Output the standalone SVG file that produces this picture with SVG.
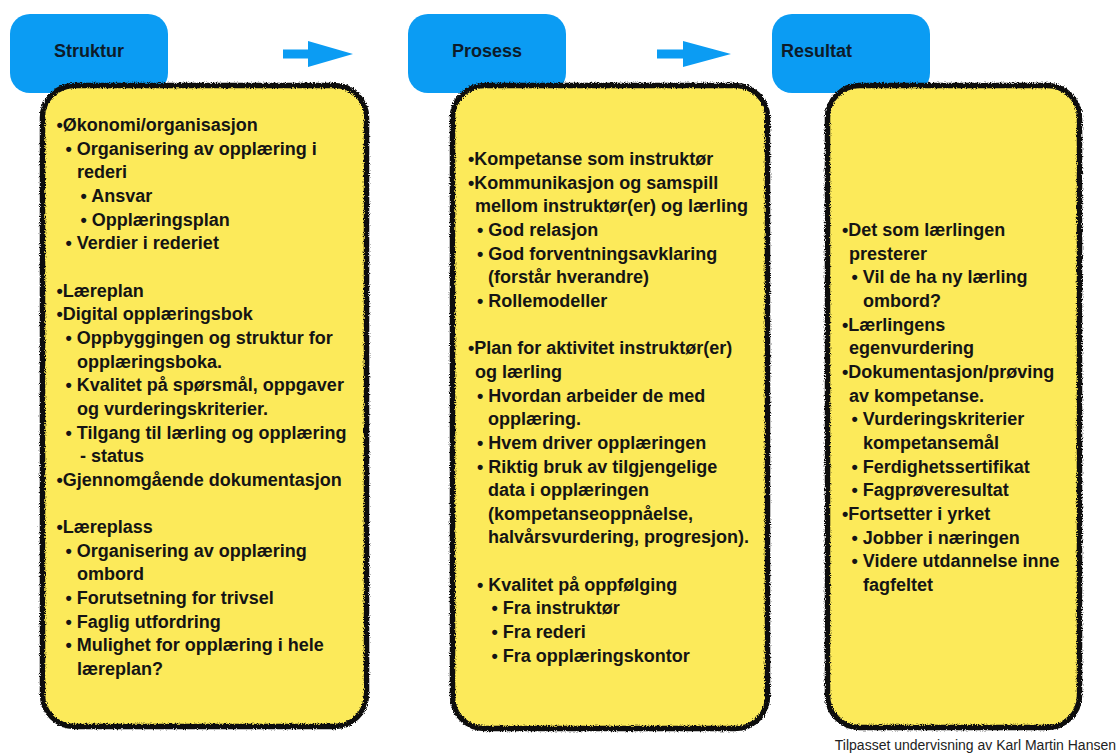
<svg xmlns="http://www.w3.org/2000/svg" width="1119" height="756" viewBox="0 0 1119 756">
  <defs>
    <style>
      .hdr { fill: #0b9cf3; }
      .hdr-t { font-family: "Liberation Sans", Arial, sans-serif; font-weight: bold; font-size: 18px; fill: #0d1b2a; }
      .card { fill: #fcea5a; }
      .edge { fill: none; stroke: #111; stroke-width: 5.5; filter: url(#rough); }
      .t { font-family: "Liberation Sans", Arial, sans-serif; font-weight: bold; font-size: 18px; fill: #141414; }
      .credit { font-family: "Liberation Sans", Arial, sans-serif; font-size: 14px; fill: #222; }
      .arrow { fill: #0b9cf3; }
    </style>
    <!-- hand-drawn, frayed outline for the yellow cards -->
    <filter id="rough" x="-5%" y="-5%" width="110%" height="110%">
      <feTurbulence type="fractalNoise" baseFrequency="0.9" numOctaves="2" seed="3" result="noise"/>
      <feDisplacementMap in="SourceGraphic" in2="noise" scale="4" xChannelSelector="R" yChannelSelector="G"/>
    </filter>
  </defs>

  <rect width="1119" height="756" fill="#ffffff"/>

  <!-- Struktur -->
  <g id="struktur">
    <rect class="hdr" x="10" y="14" width="158" height="79" rx="20"/>
    <text class="hdr-t" x="54" y="57">Struktur</text>
    <rect class="card" x="42.5" y="85.5" width="324" height="641" rx="32"/>
    <rect class="edge" x="42.5" y="85.5" width="324" height="641" rx="32"/>
    <text class="t" x="56.5" y="131">•Økonomi/organisasjon</text>
    <text class="t" x="65.5" y="154.6">• Organisering av opplæring i</text>
    <text class="t" x="77" y="178.3">rederi</text>
    <text class="t" x="80.5" y="202">• Ansvar</text>
    <text class="t" x="80.5" y="225.6">• Opplæringsplan</text>
    <text class="t" x="65.5" y="249.2">• Verdier i rederiet</text>
    <text class="t" x="56.5" y="296.5">•Læreplan</text>
    <text class="t" x="56.5" y="320.2">•Digital opplæringsbok</text>
    <text class="t" x="65.5" y="343.8">• Oppbyggingen og struktur for</text>
    <text class="t" x="77" y="367.5">opplæringsboka.</text>
    <text class="t" x="65.5" y="391.2">• Kvalitet på spørsmål, oppgaver</text>
    <text class="t" x="77" y="414.8">og vurderingskriterier.</text>
    <text class="t" x="65.5" y="438.5">• Tilgang til lærling og opplæring</text>
    <text class="t" x="80" y="462.1">- status</text>
    <text class="t" x="56.5" y="485.8">•Gjennomgående dokumentasjon</text>
    <text class="t" x="56.5" y="533">•Læreplass</text>
    <text class="t" x="65.5" y="556.7">• Organisering av opplæring</text>
    <text class="t" x="77" y="580.4">ombord</text>
    <text class="t" x="65.5" y="604">• Forutsetning for trivsel</text>
    <text class="t" x="65.5" y="627.7">• Faglig utfordring</text>
    <text class="t" x="65.5" y="651.3">• Mulighet for opplæring i hele</text>
    <text class="t" x="77" y="675">læreplan?</text>
  </g>

  <!-- Prosess -->
  <g id="prosess">
    <rect class="hdr" x="408" y="14" width="158" height="79" rx="20"/>
    <text class="hdr-t" x="452" y="57">Prosess</text>
    <rect class="card" x="452.5" y="85.5" width="315" height="643" rx="32"/>
    <rect class="edge" x="452.5" y="85.5" width="315" height="643" rx="32"/>
    <text class="t" x="468" y="165">•Kompetanse som instruktør</text>
    <text class="t" x="468" y="188.7">•Kommunikasjon og samspill</text>
    <text class="t" x="475" y="212.3">mellom instruktør(er) og lærling</text>
    <text class="t" x="477" y="236">• God relasjon</text>
    <text class="t" x="477" y="259.6">• God forventningsavklaring</text>
    <text class="t" x="488" y="283.3">(forstår hverandre)</text>
    <text class="t" x="477" y="306.9">• Rollemodeller</text>
    <text class="t" x="468" y="354.2">•Plan for aktivitet instruktør(er)</text>
    <text class="t" x="475" y="377.9">og lærling</text>
    <text class="t" x="477" y="401.5">• Hvordan arbeider de med</text>
    <text class="t" x="488" y="425.2">opplæring.</text>
    <text class="t" x="477" y="448.8">• Hvem driver opplæringen</text>
    <text class="t" x="477" y="472.5">• Riktig bruk av tilgjengelige</text>
    <text class="t" x="488" y="496.1">data i opplæringen</text>
    <text class="t" x="488" y="519.8">(kompetanseoppnåelse,</text>
    <text class="t" x="488" y="543.4">halvårsvurdering, progresjon).</text>
    <text class="t" x="477" y="590.7">• Kvalitet på oppfølging</text>
    <text class="t" x="491.5" y="614.4">• Fra instruktør</text>
    <text class="t" x="491.5" y="638">• Fra rederi</text>
    <text class="t" x="491.5" y="661.7">• Fra opplæringskontor</text>
  </g>

  <!-- Resultat -->
  <g id="resultat">
    <rect class="hdr" x="772" y="14" width="158" height="79" rx="20"/>
    <text class="hdr-t" x="781" y="57">Resultat</text>
    <rect class="card" x="827.5" y="85.5" width="252" height="642" rx="32"/>
    <rect class="edge" x="827.5" y="85.5" width="252" height="642" rx="32"/>
    <text class="t" x="842" y="236">•Det som lærlingen</text>
    <text class="t" x="849" y="259.7">presterer</text>
    <text class="t" x="851.5" y="283.3">• Vil de ha ny lærling</text>
    <text class="t" x="863" y="307">ombord?</text>
    <text class="t" x="842" y="330.6">•Lærlingens</text>
    <text class="t" x="849" y="354.3">egenvurdering</text>
    <text class="t" x="842" y="377.9">•Dokumentasjon/prøving</text>
    <text class="t" x="849" y="401.6">av kompetanse.</text>
    <text class="t" x="851.5" y="425.2">• Vurderingskriterier</text>
    <text class="t" x="863" y="448.9">kompetansemål</text>
    <text class="t" x="851.5" y="472.5">• Ferdighetssertifikat</text>
    <text class="t" x="851.5" y="496.2">• Fagprøveresultat</text>
    <text class="t" x="842" y="519.8">•Fortsetter i yrket</text>
    <text class="t" x="851.5" y="543.5">• Jobber i næringen</text>
    <text class="t" x="851.5" y="567.1">• Videre utdannelse inne</text>
    <text class="t" x="863" y="590.8">fagfeltet</text>
  </g>

  <!-- flow arrows between the stages -->
  <g id="connectors">
    <polygon class="arrow" points="283,49.5 308,49.5 308,41 353,54 308,67 308,58.5 283,58.5"/>
    <polygon class="arrow" points="657,49.5 683,49.5 683,41 731,54 683,67 683,58.5 657,58.5"/>
  </g>

  <text class="credit" x="1116" y="750" text-anchor="end">Tilpasset undervisning av Karl Martin Hansen</text>
</svg>
